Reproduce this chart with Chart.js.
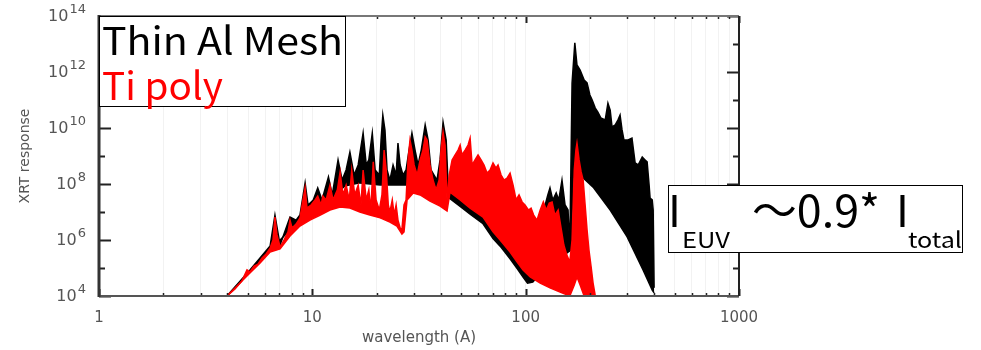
<!DOCTYPE html>
<html>
<head>
<meta charset="utf-8">
<script src="https://cdn.jsdelivr.net/npm/chart.js@4.4.0/dist/chart.umd.min.js"></script>
<style>
  body { margin: 0; background: #fff; }
  #wrap { position: relative; width: 981px; height: 350px; }
  #myChart, #notes { position: absolute; left: 0; top: 0; }
  #notes text { font-family: "Noto Sans CJK JP", "Noto Sans", sans-serif; }
</style>
</head>
<body>
<div id="wrap">
  <canvas id="myChart" width="981" height="350"></canvas>
  <svg id="notes" width="981" height="350">
    <rect x="99.5" y="16.5" width="246" height="90" fill="#fff" stroke="#000"/>
    <text x="102" y="55" font-size="38" fill="#000" textLength="241" lengthAdjust="spacingAndGlyphs">Thin Al Mesh</text>
    <text x="102" y="100" font-size="38" fill="#f00" textLength="121" lengthAdjust="spacingAndGlyphs">Ti poly</text>
    <rect x="668.5" y="185.5" width="294" height="67" fill="#fff" stroke="#000"/>
    <text x="668" y="227" font-size="44">I</text>
    <text x="682" y="248" font-size="21" textLength="48" lengthAdjust="spacingAndGlyphs">EUV</text>
    <text x="752" y="227" font-size="44" textLength="128" lengthAdjust="spacingAndGlyphs">〜0.9*</text>
    <text x="896" y="227" font-size="44">I</text>
    <text x="908" y="248" font-size="22" textLength="54" lengthAdjust="spacingAndGlyphs">total</text>
  </svg>
</div>
<script>
// [wavelength (A), log10 response]
var tiPolyTop = [
    [3.98, 4.0], [4.34, 4.25], [4.68, 4.54], [4.94, 4.93], [5.10, 4.86], [5.33, 5.07], [5.56, 5.14],
    [5.81, 5.36], [6.07, 5.5], [6.34, 5.71], [6.54, 6.0], [6.68, 6.82], [6.83, 6.18], [7.06, 5.75],
    [7.36, 6.0], [7.69, 6.29], [7.86, 6.71], [8.03, 6.43], [8.39, 6.57], [8.75, 6.79], [9.04, 7.43],
    [9.25, 7.86], [9.44, 7.14], [9.86, 7.25], [10.3, 7.43], [10.6, 7.57], [11.0, 7.25], [11.2, 7.57],
    [11.6, 7.43], [12.1, 7.96], [12.5, 7.43], [13.1, 7.79], [13.5, 8.43], [13.9, 7.61], [14.4, 7.96],
    [14.9, 7.43], [15.3, 8.5], [15.8, 7.61], [16.4, 7.96], [16.9, 7.25], [17.3, 8.5], [17.9, 7.43],
    [18.4, 7.79], [18.8, 7.07], [19.3, 8.79], [19.9, 7.43], [20.6, 7.07], [21.2, 7.61], [21.7, 9.21],
    [22.2, 8.5], [22.7, 7.25], [23.1, 7.0], [23.7, 7.43], [24.2, 6.89], [24.7, 7.25], [25.2, 6.71],
    [25.8, 6.43], [26.3, 6.36], [26.9, 7.25], [27.5, 7.43], [28.1, 8.86], [28.7, 9.57], [29.3, 9.21],
    [30.0, 8.68], [31.0, 8.32], [32.0, 8.86], [33.0, 9.21], [33.8, 9.68], [34.5, 9.57], [35.6, 8.68],
    [36.8, 8.14], [38.0, 7.79], [39.3, 8.14], [40.1, 9.21], [41.0, 9.86], [41.9, 9.39], [42.8, 7.43],
    [43.8, 8.32], [45.2, 8.86], [46.7, 9.04], [48.2, 9.21], [49.3, 9.39], [50.3, 9.04], [52.0, 9.21],
    [53.7, 9.39], [54.9, 9.64], [56.1, 8.68], [57.9, 8.86], [59.8, 9.04], [61.8, 8.86], [63.8, 8.68],
    [65.9, 8.39], [68.1, 8.5], [70.3, 8.75], [72.6, 8.57], [74.2, 8.68], [76.7, 8.32], [79.2, 8.14],
    [81.8, 8.21], [84.5, 8.39], [87.3, 7.96], [90.2, 7.43], [93.1, 7.61], [96.2, 7.36], [99.3, 7.25],
    [103, 7.07], [106, 7.14], [109, 6.89], [113, 6.71], [117, 7.07], [121, 7.36], [125, 7.07],
    [129, 7.32], [133, 7.36], [137, 6.89], [142, 7.07], [147, 6.36], [151, 5.82], [156, 5.46],
    [161, 5.21], [165, 6.0], [169, 8.5], [172, 9.21], [174, 9.46], [178, 8.86], [182, 8.43],
    [186, 8.14], [190, 7.25], [194, 6.36], [198, 5.64], [203, 5.0], [207, 4.46], [212, 4.0]
];

var tiPolyLow = [
    [3.98, 4.0], [5.10, 4.82], [5.69, 5.18], [6.34, 5.57], [7.06, 5.68], [7.86, 6.14], [8.75, 6.5],
    [9.75, 6.71], [10.9, 6.89], [12.1, 7.07], [13.5, 7.18], [15.0, 7.14], [16.7, 7.0], [18.6, 6.89],
    [20.8, 6.79], [23.1, 6.64], [24.9, 6.5], [26.3, 6.21], [26.9, 6.29], [27.8, 7.43], [29.7, 7.68],
    [32.0, 7.61], [35.6, 7.39], [39.7, 7.21], [42.8, 7.04], [44.2, 7.71], [49.3, 7.43], [54.9, 7.14],
    [63.1, 6.82], [70.3, 6.29], [75.9, 6.0], [84.5, 5.57], [91.2, 5.21], [97.2, 4.93], [105, 4.68],
    [117, 4.46], [130, 4.29], [145, 4.14], [161, 4.0], [169, 4.39], [174, 4.68], [180, 4.39],
    [188, 4.0], [212, 4.0]
];

var alMeshTop = [
    [3.98, 4.0], [5.10, 4.93], [6.34, 5.79], [6.68, 6.89], [7.06, 5.82], [7.86, 6.82], [8.39, 6.71],
    [8.75, 6.89], [9.25, 8.04], [9.55, 7.25], [10.1, 7.43], [10.6, 7.86], [11.1, 7.43], [11.9, 8.25],
    [12.4, 7.61], [13.2, 8.86], [13.8, 8.14], [14.4, 8.5], [15.0, 9.14], [15.7, 8.32], [16.4, 8.68],
    [17.3, 9.82], [17.9, 8.68], [18.4, 8.86], [19.1, 9.82], [19.7, 8.5], [20.6, 8.32], [21.0, 9.57],
    [21.4, 10.46], [21.9, 9.93], [22.4, 8.5], [23.1, 8.14], [23.9, 8.68], [24.7, 8.32], [25.2, 9.46],
    [25.8, 8.68], [26.6, 8.32], [27.5, 8.5], [28.4, 9.21], [29.3, 9.82], [30.3, 9.21], [31.3, 8.68],
    [32.4, 9.21], [33.8, 10.11], [34.9, 9.57], [36.0, 8.5], [37.2, 8.32], [38.4, 8.14], [39.7, 8.86],
    [41.0, 10.21], [42.4, 9.57], [43.3, 7.96], [44.2, 8.14], [54.9, 7.79], [68.1, 7.25], [84.5, 6.54],
    [105, 5.82], [117, 6.36], [123, 7.21], [127, 7.61], [130, 7.86], [134, 7.43], [139, 7.68],
    [143, 7.43], [148, 8.14], [153, 7.25], [158, 7.07], [161, 5.64], [165, 11.61], [170, 13.04],
    [174, 12.25], [180, 12.07], [188, 11.71], [194, 11.61], [200, 11.18], [205, 11.0], [212, 10.71],
    [218, 10.57], [225, 10.36], [236, 10.29], [243, 10.89], [249, 10.64], [254, 10.04], [263, 10.11],
    [271, 10.29], [277, 10.46], [283, 9.93], [289, 9.57], [302, 9.57], [315, 9.64], [326, 8.75],
    [337, 8.68], [352, 8.96], [363, 8.86], [371, 8.79], [379, 7.96], [383, 7.5], [392, 7.43],
    [396, 7.07], [400, 4.29]
];

var alMeshLow = [
    [3.98, 4.0], [5.10, 4.86], [6.34, 5.64], [7.86, 6.36], [9.75, 7.0], [12.1, 7.43], [14.2, 7.93],
    [16.7, 8.04], [20.8, 7.96], [27.8, 7.96], [32.0, 8.04], [39.7, 7.89], [42.4, 7.86], [43.8, 7.5],
    [49.3, 7.2], [54.9, 6.92], [63.1, 6.58], [70.3, 6.05], [75.9, 5.78], [84.5, 5.33], [91.2, 4.98],
    [97.2, 4.68], [102, 4.46], [108, 4.5], [117, 4.8], [137, 5.21], [158, 5.57], [163, 5.64],
    [167, 8.21], [172, 8.32], [184, 8.25], [207, 7.89], [249, 7.07], [299, 6.11], [355, 4.93],
    [392, 4.21], [400, 4.11]
];

var xDecades = [1, 10, 100, 1000];
var xTickLabels = ['1', '10', '100', '1000'];
var yExponents = [4, 5, 6, 7, 8, 9, 10, 11, 12, 13, 14];
var yLabelExponents = [4, 6, 8, 10, 12, 14];

var toPoints = (pairs) => pairs.map(p => ({ x: p[0], y: Math.pow(10, p[1]) }));

var xTickValues = () => {
    let values = [];
    for (let i = 0; i < xDecades.length - 1; i++) {
        for (let m = 1; m < 10; m++) {
            values.push(xDecades[i] * m);
        }
    }
    values.push(xDecades[xDecades.length - 1]);
    return values;
}

var makeBand = (label, top, low, color) => {
    return [{
        label: label,
        data: toPoints(top),
        borderColor: color,
        backgroundColor: color,
        borderWidth: 1.5,
        pointRadius: 0,
        tension: 0,
        fill: false
    },
    {
        label: label + ' (floor)',
        data: toPoints(low),
        borderColor: color,
        backgroundColor: color,
        borderWidth: 1.5,
        pointRadius: 0,
        tension: 0,
        fill: '-1'
    }];
}

// inward tick marks, frame and the 10^n labels on the left
var axisFrame = {
    id: 'axisFrame',
    afterDatasetsDraw(chart) {
        const { ctx, chartArea: a, scales: { x, y } } = chart;
        ctx.save();
        ctx.strokeStyle = '#222';
        x.ticks.forEach(t => {
            const px = Math.round(x.getPixelForValue(t.value)) + 0.5;
            const major = xDecades.indexOf(t.value) >= 0;
            const len = major ? 7 : 3;
            ctx.lineWidth = major ? 2 : 1.5;
            ctx.beginPath();
            ctx.moveTo(px, a.bottom);
            ctx.lineTo(px, a.bottom - len);
            ctx.moveTo(px, a.top);
            ctx.lineTo(px, a.top + len);
            ctx.stroke();
        });
        yExponents.forEach(e => {
            const py = Math.round(y.getPixelForValue(Math.pow(10, e))) + 0.5;
            const len = e % 2 === 0 ? 12 : 6;
            ctx.lineWidth = 2;
            ctx.beginPath();
            ctx.moveTo(a.left, py);
            ctx.lineTo(a.left + len, py);
            ctx.moveTo(a.right, py);
            ctx.lineTo(a.right - len, py);
            ctx.stroke();
        });

        ctx.lineWidth = 2;
        ctx.strokeStyle = '#777';
        ctx.beginPath();
        ctx.moveTo(a.left, a.top);
        ctx.lineTo(a.right, a.top);
        ctx.stroke();
        ctx.strokeStyle = '#555';
        ctx.beginPath();
        ctx.moveTo(a.left, a.bottom);
        ctx.lineTo(a.right, a.bottom);
        ctx.stroke();
        ctx.strokeStyle = '#222';
        ctx.beginPath();
        ctx.moveTo(a.right, a.top);
        ctx.lineTo(a.right, a.bottom);
        ctx.stroke();
        ctx.lineWidth = 3;
        ctx.strokeStyle = '#333';
        ctx.beginPath();
        ctx.moveTo(a.left, a.top - 1);
        ctx.lineTo(a.left, a.bottom + 1);
        ctx.stroke();
        ctx.restore();
    },
    afterDraw(chart) {
        const { ctx, scales: { y } } = chart;
        ctx.save();
        ctx.fillStyle = '#555';
        ctx.textAlign = 'right';
        ctx.textBaseline = 'middle';
        yLabelExponents.forEach(e => {
            const py = y.getPixelForValue(Math.pow(10, e));
            const sup = String(e);
            ctx.font = '13px "DejaVu Sans"';
            ctx.fillText(sup, 86, py - 6);
            const w = ctx.measureText(sup).width;
            ctx.font = '16px "DejaVu Sans"';
            ctx.fillText('10', 85 - w, py + 1);
        });
        ctx.restore();
    }
};

window.onload = () => {
    const ctx = document.getElementById('myChart').getContext('2d');
    const datasets = makeBand('Ti poly', tiPolyTop, tiPolyLow, '#ff0000')
        .concat(makeBand('Thin Al Mesh', alMeshTop, alMeshLow, '#000000'));

    new Chart(ctx, {
        type: 'line',
        data: { datasets: datasets },
        options: {
            responsive: false,
            animation: false,
            layout: {
                autoPadding: false,
                padding: { left: 0, right: 242, top: 16, bottom: 0 }
            },
            scales: {
                x: {
                    type: 'logarithmic',
                    min: 1,
                    max: 1000,
                    afterFit: (s) => { s.height = 54; },
                    afterBuildTicks: (s) => { s.ticks = xTickValues().map(v => ({ value: v })); },
                    grid: { color: 'rgba(0,0,0,0.05)', drawTicks: false },
                    border: { display: false },
                    ticks: {
                        autoSkip: false,
                        maxRotation: 0,
                        padding: 13,
                        color: '#555',
                        font: { family: 'DejaVu Sans', size: 15 },
                        callback: (v) => {
                            const i = xDecades.indexOf(v);
                            return i >= 0 ? xTickLabels[i] : '';
                        }
                    },
                    title: {
                        display: true,
                        text: 'wavelength (A)',
                        color: '#555',
                        font: { family: 'DejaVu Sans', size: 15 },
                        padding: { top: 0, bottom: 3 }
                    }
                },
                y: {
                    type: 'logarithmic',
                    min: 1e4,
                    max: 1e14,
                    afterFit: (s) => { s.width = 99; },
                    afterBuildTicks: (s) => { s.ticks = yExponents.map(e => ({ value: Math.pow(10, e) })); },
                    grid: { display: false },
                    border: { display: false },
                    ticks: { display: false },
                    title: {
                        display: true,
                        text: 'XRT response',
                        color: '#555',
                        font: { family: 'DejaVu Sans', size: 14 },
                        padding: { top: 17, bottom: 0 }
                    }
                }
            },
            plugins: {
                legend: { display: false },
                tooltip: { enabled: false }
            }
        },
        plugins: [axisFrame]
    });
}
</script>
</body>
</html>
